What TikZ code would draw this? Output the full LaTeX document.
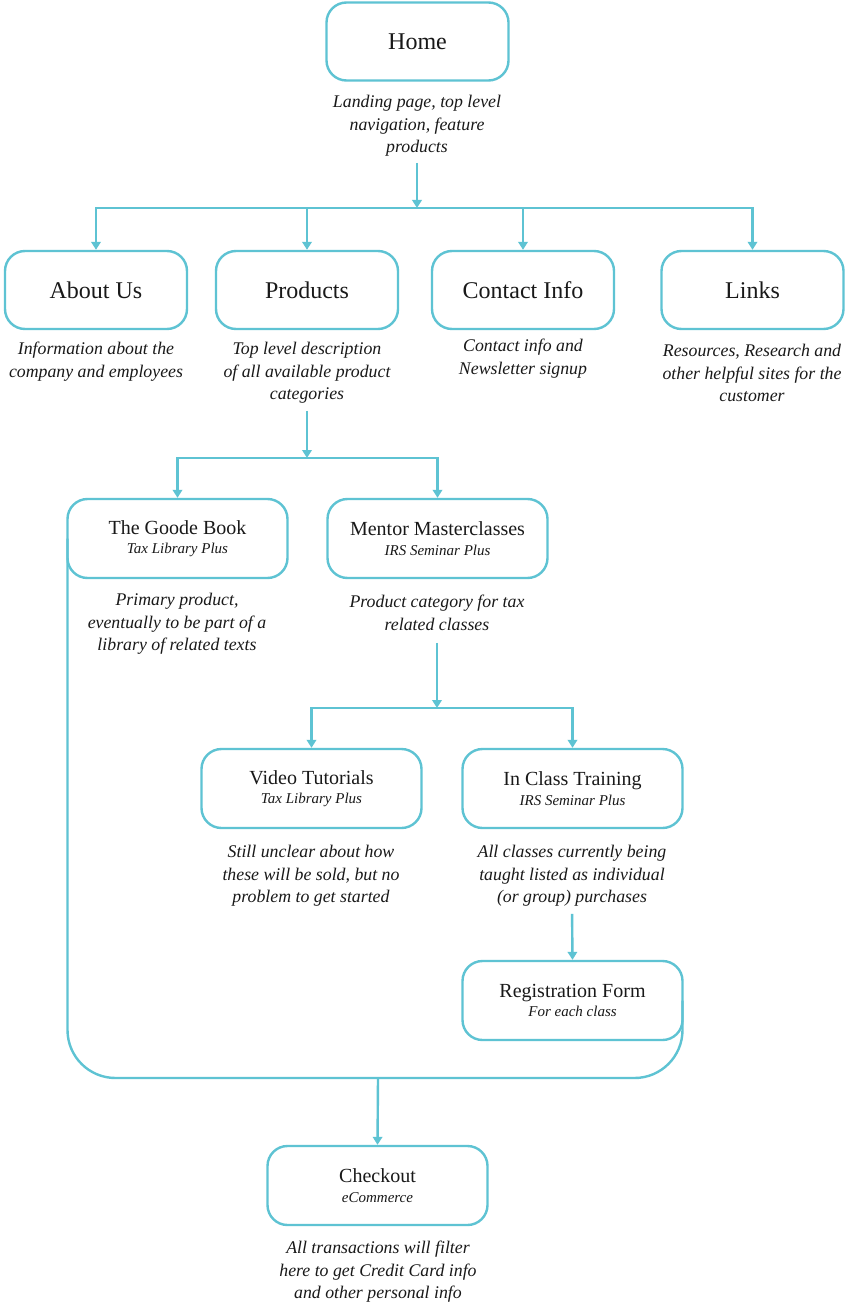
\documentclass[tikz,border=0pt]{standalone}
\usepackage{fontspec}
\setmainfont{Liberation Serif}
\usetikzlibrary{arrows.meta}
\definecolor{sm}{RGB}{94,195,211}
\definecolor{ink}{RGB}{25,25,25}
\tikzset{
  box/.style={draw=sm, line width=2.4pt, rounded corners=20pt, fill=white, text=ink,
    minimum width=182pt, minimum height=78pt, align=center, inner sep=0pt,
    font=\fontsize{24}{26}\selectfont},
  box2/.style={box, minimum width=220pt, minimum height=79pt, font=\fontsize{20}{20.5}\selectfont},
  desc/.style={align=center, inner sep=0pt, text=ink, font=\fontsize{17.8}{22.5}\selectfont\itshape},
  link/.style={draw=sm, line width=2.4pt},
  arr/.style={link, -{Triangle[width=9.5pt,length=8pt]}},
}
\newcommand{\subt}[1]{\\[-1pt]{\fontsize{15}{20.5}\selectfont\itshape #1}}
\begin{document}
\begin{tikzpicture}[x=1pt,y=-1pt]
\useasboundingbox[fill=white] (0,0) rectangle (851,1305);
% nodes
\node[box] (home) at (417.5,41.5) {Home};
\node[desc] (homedesc) at (417,126) {Landing page, top level\\navigation, feature\\products};
\coordinate (bus1) at (417,208);

\node[box] (about) at (96,290) {About Us};
\node[box] (prod) at (307,290) {Products};
\node[box] (contact) at (523,290) {Contact Info};
\node[box] (links) at (752.5,290) {Links};

\node[desc] (aboutdesc) at (96,361.5) {Information about the\\company and employees};
\node[desc] (proddesc) at (307,373) {Top level description\\of all available product\\categories};
\node[desc] (contactdesc) at (523,358.5) {Contact info and\\Newsletter signup};
\node[desc] (linksdesc) at (752,373) {Resources, Research and\\other helpful sites for the\\customer};
\coordinate (bus2) at (307,458);

\node[box2] (goode) at (177.5,538.5) {The Goode Book\subt{Tax Library Plus}};
\node[box2] (mentor) at (437.5,538.5) {Mentor Masterclasses\subt{IRS Seminar Plus}};
\node[desc] (goodedesc) at (177,624) {Primary product,\\eventually to be part of a\\library of related texts};
\node[desc] (mentordesc) at (437,613) {Product category for tax\\related classes};
\coordinate (bus3) at (437,708);

\node[box2] (video) at (311.5,788.5) {Video Tutorials\subt{Tax Library Plus}};
\node[box2] (class) at (572.5,788.5) {In Class Training\subt{IRS Seminar Plus}};
\node[desc] (videodesc) at (311,876) {Still unclear about how\\these will be sold, but no\\problem to get started};
\node[desc] (classdesc) at (572,876) {All classes currently being\\taught listed as individual\\(or group) purchases};

\node[box2] (reg) at (572.5,1000.5) {Registration Form\subt{For each class}};
\coordinate (loopb) at (378,1078);

\node[box2] (checkout) at (377.5,1185.5) {Checkout\subt{eCommerce}};
\node[desc] (checkoutdesc) at (378,1272) {All transactions will filter\\here to get Credit Card info\\and other personal info};

% connectors
\draw[arr, shorten <=6pt] (homedesc.south) -- (bus1);
\draw[arr] (bus1) -| (about.north);
\draw[arr] (bus1) -| (links.north);
\draw[arr] (prod.north |- bus1) -- (prod.north);
\draw[arr] (contact.north |- bus1) -- (contact.north);

\draw[arr, shorten <=7pt] (proddesc.south) -- (bus2);
\draw[arr] (bus2) -| (goode.north);
\draw[arr] (bus2) -| (mentor.north);

\draw[arr, shorten <=12pt] (mentordesc.south) -- (bus3);
\draw[arr] (bus3) -| (video.north);
\draw[arr] (bus3) -| (class.north);

\draw[arr, shorten <=7pt] (classdesc.south) -- (reg.north);

\draw[link, rounded corners=48pt] ([xshift=1.2pt]goode.west) |- (loopb) -| ([xshift=-1.2pt]reg.east);
\draw[arr] (loopb) -- (checkout.north);
\end{tikzpicture}
\end{document}
